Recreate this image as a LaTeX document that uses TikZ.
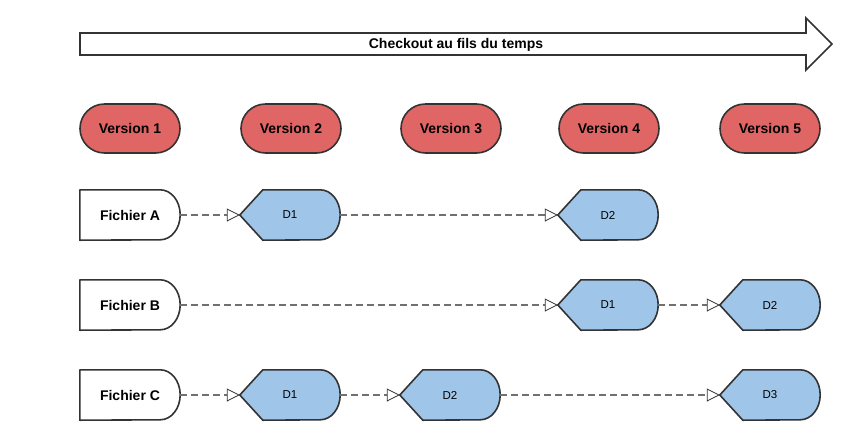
\documentclass[tikz,border=0pt]{standalone}
\usepackage{fontspec}
\setmainfont{Liberation Sans}
\usetikzlibrary{arrows.meta,shapes.misc,backgrounds}
\definecolor{verred}{HTML}{E06666}
\definecolor{dblue}{HTML}{9FC5E8}
\definecolor{edgec}{HTML}{333333}
\definecolor{conngray}{HTML}{707070}
\tikzset{
 version/.style={rounded rectangle, draw=edgec, line width=1.6pt, fill=verred, minimum width=100pt, minimum height=49pt, inner sep=0pt, font=\fontsize{14}{16}\selectfont\bfseries},
 filebox/.style={minimum width=100pt, minimum height=50pt, inner sep=0pt, font=\fontsize{14}{16}\selectfont\bfseries},
 deltabox/.style={minimum width=100pt, minimum height=50pt, inner sep=0pt, font=\fontsize{11.5}{13}\selectfont},
 outline/.style={draw=edgec, line width=1.6pt, line join=round},
 conn/.style={draw=conngray, line width=1.4pt, dash pattern=on 7pt off 4pt, -{Triangle[length=13pt,width=13pt,fill=white,color=edgec,line width=0.8pt]}},
}
\newcommand{\fichiershape}[1]{\path[outline, fill=white] (#1.north west) -- ([xshift=-20pt]#1.north east) arc[start angle=90, end angle=-90, x radius=20pt, y radius=25pt] -- (#1.south west) -- cycle;}
\newcommand{\deltashape}[1]{\path[outline, fill=dblue] (#1.west) -- ([xshift=23pt]#1.north west) -- ([xshift=-20pt]#1.north east) arc[start angle=90, end angle=-90, x radius=20pt, y radius=25pt] -- ([xshift=23pt]#1.south west) -- cycle;}
\begin{document}
\begin{tikzpicture}[x=1pt,y=-1pt]
\useasboundingbox (0,0) rectangle (852,440);
% timeline arrow
\path[outline, fill=white, line join=miter] (80,33) -- (806,33) -- (806,18) -- (832,44) -- (806,70) -- (806,55) -- (80,55) -- cycle;
\node[font=\fontsize{14}{16}\selectfont\bfseries] (timeline) at (456,45) {Checkout au fils du temps};
% versions
\node[version] (v1) at (130,128.5) {Version 1};
\node[version] (v2) at (291,128.5) {Version 2};
\node[version] (v3) at (451,128.5) {Version 3};
\node[version] (v4) at (609,128.5) {Version 4};
\node[version] (v5) at (770,128.5) {Version 5};
% files
\node[filebox] (fa) at (130,215) {Fichier A};
\node[filebox] (fb) at (130,305) {Fichier B};
\node[filebox] (fc) at (130,395) {Fichier C};
% deltas
\node[deltabox] (a1) at (290,215) {D1};
\node[deltabox] (a2) at (608,215) {D2};
\node[deltabox] (b1) at (608,305) {D1};
\node[deltabox] (b2) at (770,305) {D2};
\node[deltabox] (c1) at (290,395) {D1};
\node[deltabox] (c2) at (450,395) {D2};
\node[deltabox] (c3) at (770,395) {D3};
\begin{scope}[on background layer]
\fichiershape{fa}\fichiershape{fb}\fichiershape{fc}
\deltashape{a1}\deltashape{a2}\deltashape{b1}\deltashape{b2}
\deltashape{c1}\deltashape{c2}\deltashape{c3}
\end{scope}
% connectors
\draw[conn] (fa.east) -- (a1.west);
\draw[conn] (a1.east) -- (a2.west);
\draw[conn] (fb.east) -- (b1.west);
\draw[conn] (b1.east) -- (b2.west);
\draw[conn] (fc.east) -- (c1.west);
\draw[conn] (c1.east) -- (c2.west);
\draw[conn] (c2.east) -- (c3.west);
\end{tikzpicture}
\end{document}
